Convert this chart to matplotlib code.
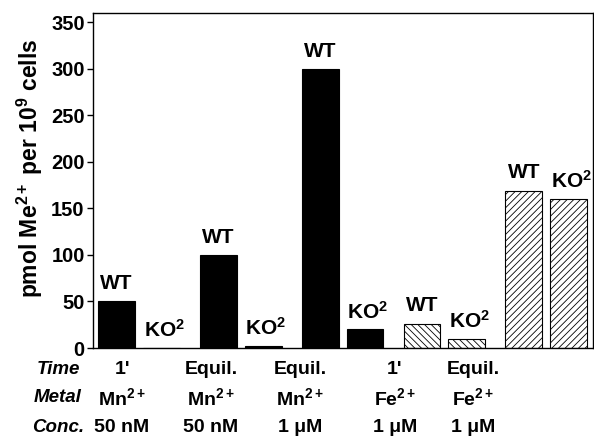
import numpy as np
import matplotlib
matplotlib.use('Agg')
import matplotlib.pyplot as plt

plt.rcParams['font.family'] = ['Liberation Sans', 'DejaVu Sans']
plt.rcParams['font.weight'] = 'bold'
plt.rcParams['mathtext.fontset'] = 'custom'
plt.rcParams['mathtext.rm'] = 'Liberation Sans:bold'
plt.rcParams['mathtext.bf'] = 'Liberation Sans:bold'
plt.rcParams['mathtext.it'] = 'Liberation Sans:bold:italic'
plt.rcParams['mathtext.default'] = 'rm'
plt.rcParams['hatch.linewidth'] = 0.6

# data
wt = [50, 100, 300, 26, 169]
ko = [0, 2, 20, 10, 160]
hatches = ['', '', '', '\\\\\\\\\\', '/////']
fills = ['black', 'black', 'black', 'white', 'white']
time_row = ["1'", 'Equil.', 'Equil.', "1'", 'Equil.']
metal_row = ['Mn$^{2+}$', 'Mn$^{2+}$', 'Mn$^{2+}$', 'Fe$^{2+}$', 'Fe$^{2+}$']
conc_row = ['50 nM', '50 nM', '1 \u03bcM', '1 \u03bcM', '1 \u03bcM']
row_names = ['Time', 'Metal', 'Conc.']

fig = plt.figure(figsize=(5.94, 4.46), dpi=100)
ax = fig.add_axes([93/594, 1-348/446, 500/594, 335/446])

x = np.arange(len(wt))
w = 0.36
off = 0.22
for i in range(len(wt)):
    ax.bar(x[i]-off, wt[i], w, color=fills[i], edgecolor='black', hatch=hatches[i], linewidth=0.8)
    ax.bar(x[i]+off, ko[i], w, color=fills[i], edgecolor='black', hatch=hatches[i], linewidth=0.8)
    ax.annotate('WT', (x[i]-off, wt[i]), xytext=(0, 6), textcoords='offset points',
                ha='center', va='bottom', fontsize=15, fontweight='bold')
    ax.annotate('KO$^2$', (x[i]+off, ko[i]), xytext=(2, 5), textcoords='offset points',
                ha='center', va='bottom', fontsize=15, fontweight='bold')

ax.set_xlim(-0.452, 4.46)
ax.set_ylim(0, 360)
ax.set_xticks([])
ax.set_yticks(np.arange(0, 351, 50))
ax.tick_params(axis='y', direction='out', length=4, width=1, labelsize=14.5, pad=2)
for s in ax.spines.values():
    s.set_linewidth(1)
ax.set_ylabel('pmol Me$^{2+}$ per 10$^9$ cells', fontsize=16.5, fontweight='bold')
ax.yaxis.set_label_coords(-0.095, 0.537)

# table under the axis
col_x = [122, 211, 300, 395, 473]
row_y = [370, 398, 428]
rows = [time_row, metal_row, conc_row]
for r in range(3):
    fig.text(58/594, 1-row_y[r]/446, row_names[r], ha='center', va='center',
             fontsize=13.5, fontweight='bold', style='italic')
    for c in range(5):
        fig.text(col_x[c]/594, 1-row_y[r]/446, rows[r][c], ha='center', va='center',
                 fontsize=14, fontweight='bold')

fig.savefig('out.png', dpi=100)
